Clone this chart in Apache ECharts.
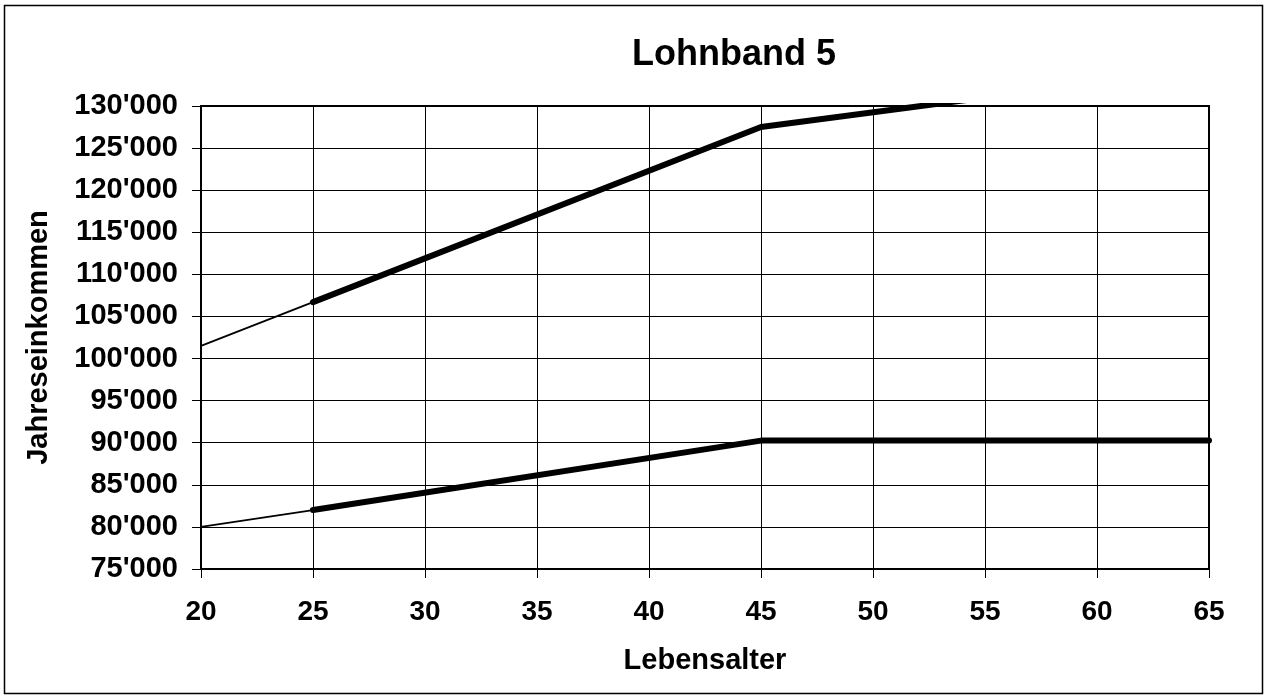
<!DOCTYPE html>
<html>
<head>
<meta charset="utf-8">
<script src="https://cdn.jsdelivr.net/npm/echarts@6/dist/echarts.min.js"></script>
<style>
  html, body { margin: 0; padding: 0; background: #fff; }
  #chart { width: 1269px; height: 695px; }
</style>
</head>
<body>
<div id="chart"></div>
<script>
// Lebensalter / Jahreseinkommen
const xTicks = [20, 25, 30, 35, 40, 45, 50, 55, 60, 65];
const upperEntry = [[20, 101500], [25, 106700]];
const upperBand = [[25, 106700], [45, 127500], [65, 134500]];
const lowerEntry = [[20, 80000], [25, 82000]];
const lowerBand = [[25, 82000], [45, 90250], [65, 90250]];

const fmt = (v) => {
  const s = String(Math.round(v));
  return s.replace(/\B(?=(\d{3})+(?!\d))/g, "'");
};

const chart = echarts.init(document.getElementById('chart'));
const font = 'Liberation Sans, Arial, sans-serif';

const thin = { width: 1.8, color: '#000' };
const thick = { width: 6, color: '#000', cap: 'round', join: 'round' };

const option = {
  backgroundColor: '#fff',
  animation: false,
  title: {
    text: 'Lohnband 5',
    left: 729,
    top: 32,
    textAlign: 'center',
    textStyle: { fontFamily: font, fontSize: 36, fontWeight: 'bold', color: '#000' }
  },
  graphic: [{
    type: 'rect',
    shape: { x: 4.5, y: 5.5, width: 1258, height: 688 },
    style: { fill: null, stroke: '#000', lineWidth: 1.5 },
    z: -1
  }],
  grid: {
    left: 201, top: 106, right: 60, bottom: 126,
    show: true, borderColor: '#000', borderWidth: 2, backgroundColor: 'transparent'
  },
  xAxis: {
    type: 'value',
    min: 20, max: 65, interval: 5,
    name: 'Lebensalter',
    nameLocation: 'middle',
    nameGap: 77,
    nameTextStyle: { fontFamily: font, fontSize: 29, fontWeight: 'bold', color: '#000' },
    axisLine: { show: true, lineStyle: { color: '#000', width: 2 } },
    axisTick: { show: true, length: 9, lineStyle: { color: '#000', width: 1 } },
    axisLabel: {
      margin: 29,
      fontFamily: font, fontSize: 28, fontWeight: 'bold', color: '#000',
      formatter: (v) => xTicks.includes(v) ? String(v) : ''
    },
    splitLine: { show: true, lineStyle: { color: '#000', width: 1 } }
  },
  yAxis: {
    type: 'value',
    min: 75000, max: 130000, interval: 5000,
    name: 'Jahreseinkommen',
    nameLocation: 'middle',
    nameGap: 148,
    nameRotate: 90,
    nameTextStyle: { fontFamily: font, fontSize: 29, fontWeight: 'bold', color: '#000' },
    axisLine: { show: true, lineStyle: { color: '#000', width: 2 } },
    axisTick: { show: true, length: 9, lineStyle: { color: '#000', width: 1 } },
    axisLabel: {
      margin: 23,
      fontFamily: font, fontSize: 29, fontWeight: 'bold', color: '#000',
      formatter: fmt
    },
    splitLine: { show: true, lineStyle: { color: '#000', width: 1 } }
  },
  series: [
    { type: 'line', data: upperEntry, showSymbol: false, lineStyle: thin, clip: true },
    { type: 'line', data: upperBand, showSymbol: false, lineStyle: thick, clip: true },
    { type: 'line', data: lowerEntry, showSymbol: false, lineStyle: thin, clip: true },
    { type: 'line', data: lowerBand, showSymbol: false, lineStyle: thick, clip: true }
  ]
};

option && chart.setOption(option);
</script>
</body>
</html>
